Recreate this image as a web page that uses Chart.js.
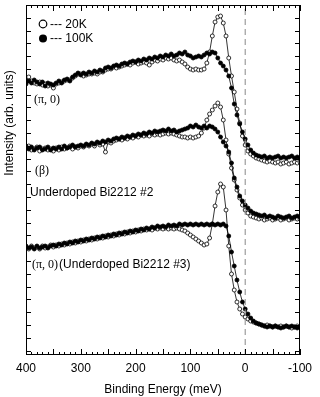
<!DOCTYPE html>
<html>
<head>
<meta charset="utf-8">
<script src="https://cdn.jsdelivr.net/npm/chart.js@4/dist/chart.umd.min.js"></script>
<style>
  body { margin: 0; background: #fff; }
  canvas { display: block; }
</style>
</head>
<body>
<canvas id="arpes" width="320" height="397"></canvas>
<script>
// binding energy (meV), 400 -> -100
const energy = [400, 395, 390, 385, 380, 375, 370, 365, 360, 355,
  350, 345, 340, 335, 330, 325, 320, 315, 310, 305,
  300, 295, 290, 285, 280, 275, 270, 265, 260, 255,
  250, 245, 240, 235, 230, 225, 220, 215, 210, 205,
  200, 195, 190, 185, 180, 175, 170, 165, 160, 155,
  150, 145, 140, 135, 130, 125, 120, 115, 110, 105,
  100, 95, 90, 85, 80, 75, 70, 65, 60, 55,
  50, 45, 40, 35, 30, 25, 20, 15, 10, 5,
  0, -5, -10, -15, -20, -25, -30, -35, -40, -45,
  -50, -55, -60, -65, -70, -75, -80, -85, -90, -95,
  -100];

// (pi,0) spectrum
const pi0_20K = [318, 323, 319, 317, 316, 318, 315, 316, 314, 315,
  312, 316, 317, 318, 319, 320, 320, 322, 324, 326,
  326, 324, 325, 326, 326, 327, 326, 328, 328, 330,
  331, 331, 333, 332, 333, 334, 335, 336, 335, 337,
  338, 336, 337, 338, 337, 335, 338, 340, 339, 341,
  340, 342, 341, 342, 340, 339, 340, 338, 336, 333,
  331, 330, 331, 330, 330, 331, 337, 348, 364, 378,
  383, 384, 377, 364, 342, 324, 308, 291, 277, 264,
  255, 249, 246, 244, 242, 241, 240, 239, 238, 239,
  238, 237, 238, 236, 237, 238, 236, 237, 238, 237,
  238];
const pi0_100K = [316, 319, 317, 320, 318, 316, 318, 314, 317, 316,
  315, 317, 319, 317, 320, 321, 319, 323, 325, 327,
  325, 327, 326, 328, 327, 329, 328, 330, 329, 332,
  333, 332, 334, 335, 334, 336, 337, 336, 338, 339,
  338, 340, 339, 341, 340, 342, 341, 343, 342, 344,
  343, 345, 344, 346, 344, 345, 347, 346, 348, 345,
  344, 342, 343, 344, 343, 345, 347, 346, 348, 347,
  342, 337, 334, 330, 324, 312, 296, 285, 276, 268,
  261, 255, 250, 247, 245, 244, 243, 244, 242, 243,
  242, 243, 244, 242, 243, 242, 243, 244, 242, 243,
  242];

// (beta) spectrum, underdoped #2
const beta_20K = [252, 254, 250, 251, 253, 249, 251, 252, 250, 251,
  249, 252, 250, 253, 251, 252, 254, 251, 253, 252,
  254, 253, 255, 254, 256, 254, 257, 255, 256, 248,
  258, 257, 259, 260, 261, 260, 262, 261, 263, 262,
  264, 263, 265, 264, 265, 264, 266, 265, 266, 265,
  266, 267, 266, 267, 266, 265, 264, 263, 263, 262,
  263, 262, 263, 264, 267, 272, 280, 286, 290, 294,
  297, 293, 280, 260, 246, 232, 220, 210, 202, 195,
  190, 187, 184, 183, 182, 181, 182, 180, 181, 182,
  180, 181, 182, 180, 181, 182, 180, 181, 182, 181,
  181];
const beta_100K = [254, 251, 253, 250, 252, 253, 250, 251, 253, 250,
  252, 251, 253, 251, 254, 252, 253, 255, 253, 254,
  255, 254, 256, 255, 257, 256, 258, 257, 259, 258,
  260, 259, 261, 262, 261, 263, 262, 264, 263, 265,
  264, 266, 265, 267, 266, 268, 267, 269, 268, 269,
  270, 269, 271, 269, 270, 268, 269, 270, 271, 272,
  274, 273, 275, 273, 272, 274, 272, 274, 273, 271,
  268, 263, 258, 254, 248, 237, 222, 213, 204, 199,
  195, 192, 189, 187, 186, 185, 184, 185, 183, 184,
  183, 182, 184, 183, 182, 183, 184, 182, 183, 184,
  183];

// (pi,0) underdoped #3
const ud3_20K = [153, 151, 154, 152, 153, 151, 154, 152, 153, 155,
  153, 155, 154, 156, 155, 157, 156, 158, 157, 159,
  158, 160, 159, 161, 160, 162, 161, 163, 162, 164,
  163, 165, 164, 166, 165, 167, 166, 168, 167, 169,
  168, 170, 169, 171, 170, 171, 170, 172, 171, 172,
  171, 172, 171, 172, 171, 172, 171, 170, 169, 167,
  165, 163, 161, 159, 157, 155, 156, 162, 176, 194,
  208, 216, 213, 190, 154, 126, 110, 98, 91, 86,
  83, 81, 79, 78, 77, 76, 75, 74, 75, 74,
  73, 74, 73, 74, 73, 74, 73, 72, 73, 74,
  73];
const ud3_100K = [154, 152, 153, 151, 154, 152, 153, 154, 152, 154,
  155, 154, 156, 155, 157, 156, 158, 157, 159, 158,
  160, 159, 161, 160, 162, 161, 163, 162, 164, 163,
  165, 164, 166, 165, 167, 166, 168, 167, 169, 168,
  170, 169, 171, 170, 172, 171, 173, 172, 174, 173,
  174, 173, 175, 174, 175, 174, 176, 175, 176, 175,
  176, 175, 176, 175, 176, 175, 176, 175, 176, 175,
  176, 175, 176, 174, 164, 148, 134, 120, 108, 98,
  91, 86, 82, 79, 77, 76, 75, 74, 73, 74,
  73, 74, 73, 72, 73, 74, 73, 74, 73, 72,
  73];

const xTickLabels = [400, 300, 200, 100, 0, -100];

const SANS = '"Liberation Sans", Arial, sans-serif';
const SERIF = '"Liberation Serif", "Times New Roman", serif';

function pts(vals) {
  return energy.map((e, i) => ({ x: e, y: vals[i] }));
}

function series(vals, filled) {
  return {
    data: pts(vals),
    borderColor: '#000',
    borderWidth: 0.8,
    pointRadius: 2,
    pointBorderWidth: 0.8,
    pointBorderColor: '#000',
    pointBackgroundColor: filled ? '#000' : '#fff',
    fill: false,
    tension: 0
  };
}

// inward ticks, frame, legend and labels
const decor = {
  id: 'decor',
  afterDraw(chart) {
    const ctx = chart.ctx;
    const a = chart.chartArea;
    const xs = chart.scales.x, ys = chart.scales.y;
    ctx.save();
    ctx.strokeStyle = '#000';
    ctx.lineWidth = 1;
    ctx.strokeRect(a.left + 0.5, a.top + 0.5, a.right - a.left - 1, a.bottom - a.top - 1);

    ctx.beginPath();
    for (let e = -100; e <= 400; e += 10) {
      const px = Math.round(xs.getPixelForValue(e)) + 0.5;
      const len = e % 50 === 0 ? 6 : 3;
      ctx.moveTo(px, a.bottom); ctx.lineTo(px, a.bottom - len);
      ctx.moveTo(px, a.top); ctx.lineTo(px, a.top + len);
    }
    for (let v = 395 - 12.8; v > 45; v -= 12.8) {
      const py = Math.round(ys.getPixelForValue(v)) + 0.5;
      ctx.moveTo(a.left, py); ctx.lineTo(a.left + 5, py);
      ctx.moveTo(a.right, py); ctx.lineTo(a.right - 5, py);
    }
    ctx.stroke();

    // legend
    ctx.lineWidth = 1.2;
    ctx.beginPath(); ctx.arc(43, 24, 3.8, 0, Math.PI * 2);
    ctx.fillStyle = '#fff'; ctx.fill(); ctx.stroke();
    ctx.beginPath(); ctx.arc(43, 38.5, 4, 0, Math.PI * 2);
    ctx.fillStyle = '#000'; ctx.fill();
    ctx.fillStyle = '#000';
    ctx.font = '12px ' + SANS;
    ctx.textBaseline = 'middle';
    ctx.fillText('--- 20K', 50, 24.5);
    ctx.fillText('--- 100K', 50, 39);

    // spectrum labels
    ctx.font = '12px ' + SERIF;
    ctx.fillText('(\u03c0, 0)', 34, 100);
    ctx.fillText('(\u03b2)', 35, 171);
    ctx.font = '12px ' + SANS;
    ctx.fillText('Underdoped Bi2212 #2', 30, 193);
    ctx.font = '12px ' + SERIF;
    ctx.fillText('(\u03c0, 0)', 32, 265);
    const w = ctx.measureText('(\u03c0, 0)').width;
    ctx.font = '12px ' + SANS;
    ctx.fillText('(Underdoped Bi2212 #3)', 32 + w + 1, 265);

    // y title
    ctx.translate(10, 123);
    ctx.rotate(-Math.PI / 2);
    ctx.textAlign = 'center';
    ctx.fillText('Intensity (arb. units)', 0, 0);
    ctx.restore();
  }
};

const ctx = document.getElementById('arpes').getContext('2d');
new Chart(ctx, {
  type: 'line',
  data: {
    datasets: [
      {
        data: [{ x: 0, y: 45 }, { x: 0, y: 395 }],
        borderColor: '#888',
        borderWidth: 1,
        borderDash: [6, 4],
        pointRadius: 0
      },
      series(pi0_100K, true),
      series(pi0_20K, false),
      series(beta_100K, true),
      series(beta_20K, false),
      series(ud3_100K, true),
      series(ud3_20K, false)
    ]
  },
  options: {
    responsive: false,
    animation: false,
    layout: { padding: { top: 5, right: 20, left: 0, bottom: 0 } },
    plugins: { legend: { display: false }, tooltip: { enabled: false } },
    scales: {
      x: {
        type: 'linear',
        reverse: true,
        min: -100,
        max: 400,
        grid: { display: false, drawTicks: false },
        border: { display: false },
        afterFit: s => { s.height = 42; },
        afterBuildTicks: s => { s.ticks = xTickLabels.map(v => ({ value: v })); },
        ticks: {
          color: '#000',
          padding: 6,
          maxRotation: 0,
          font: { family: SANS, size: 12 },
          callback: v => String(v)
        },
        title: {
          display: true,
          text: 'Binding Energy (meV)',
          color: '#000',
          padding: { top: 1, bottom: 0 },
          font: { family: SANS, size: 12 }
        }
      },
      y: {
        type: 'linear',
        min: 45,
        max: 395,
        grid: { display: false, drawTicks: false },
        border: { display: false },
        ticks: { display: false },
        afterFit: s => { s.width = 26; }
      }
    }
  },
  plugins: [decor]
});
</script>
</body>
</html>
